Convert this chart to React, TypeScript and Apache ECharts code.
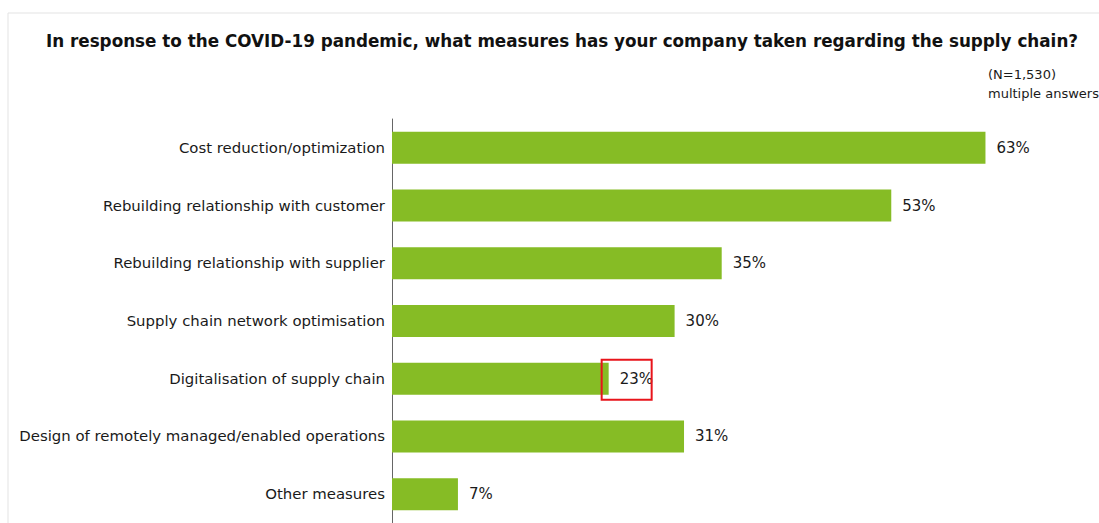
import React, { useEffect, useRef } from "react";
import * as echarts from "echarts";

const categories: string[] = [
  "Cost reduction/optimization",
  "Rebuilding relationship with customer",
  "Rebuilding relationship with supplier",
  "Supply chain network optimisation",
  "Digitalisation of supply chain",
  "Design of remotely managed/enabled operations",
  "Other measures",
];
const values: number[] = [63, 53, 35, 30, 23, 31, 7];
const highlighted = "Digitalisation of supply chain";

const titleText =
  "In response to the COVID-19 pandemic, what measures has your company taken regarding the supply chain?";
const noteLines: string[] = ["(N=1,530)", "multiple answers"];

export default function App() {
  const ref = useRef<HTMLDivElement>(null);
  useEffect(() => {
    if (!ref.current) return;
    const chart = echarts.init(ref.current, null, { renderer: "svg" });
    const font = "'DejaVu Sans', sans-serif";
    const option: any = {
      animation: false,
      backgroundColor: "#ffffff",
      textStyle: { fontFamily: font },
      title: {
        text: titleText,
        left: 557,
        textAlign: "center",
        top: 27,
        textStyle: { fontSize: 16.8, fontWeight: "bold", color: "#111", fontFamily: font },
      },
      grid: { left: 392, top: 119, width: 666, height: 406, containLabel: false },
      xAxis: {
        type: "value",
        min: 0,
        max: 70.7,
        show: false,
      },
      yAxis: {
        type: "category",
        data: categories,
        inverse: true,
        axisLine: { show: true, lineStyle: { color: "#666", width: 1 } },
        axisTick: { show: false },
        axisLabel: { color: "#1a1a1a", fontSize: 14.9, margin: 7, fontFamily: font },
      },
      series: [
        {
          type: "bar",
          data: values,
          barWidth: 32,
          itemStyle: { color: "#86bc25" },
          label: {
            show: true,
            position: "right",
            distance: 11,
            formatter: "{c}%",
            color: "#1a1a1a",
            fontSize: 15,
            fontFamily: font,
          },
        },
      ],
    };
    chart.setOption(option);
    const idx = categories.indexOf(highlighted);
    const p = chart.convertToPixel({ xAxisIndex: 0, yAxisIndex: 0 }, [values[idx], idx]) as number[];
    chart.setOption({
      graphic: [
        {
          type: "rect",
          shape: { x: 8, y: 13, width: 1200, height: 600 },
          style: { fill: "none", stroke: "#e3e3e3", lineWidth: 1 },
          silent: true,
        },
        {
          type: "text",
          left: 988,
          top: 65,
          style: {
            text: noteLines.join("\n"),
            fontSize: 13,
            lineHeight: 19,
            fill: "#1a1a1a",
            fontFamily: font,
          },
        },
        {
          type: "rect",
          shape: { x: p[0] - 7, y: p[1] - 19, width: 50, height: 40 },
          style: { fill: "none", stroke: "#e8141b", lineWidth: 2 },
          z: 10,
        },
      ],
    });
    return () => chart.dispose();
  }, []);
  return (
    <div
      ref={ref}
      style={{ position: "absolute", left: 0, top: 0, width: 1099, height: 523 }}
    />
  );
}
